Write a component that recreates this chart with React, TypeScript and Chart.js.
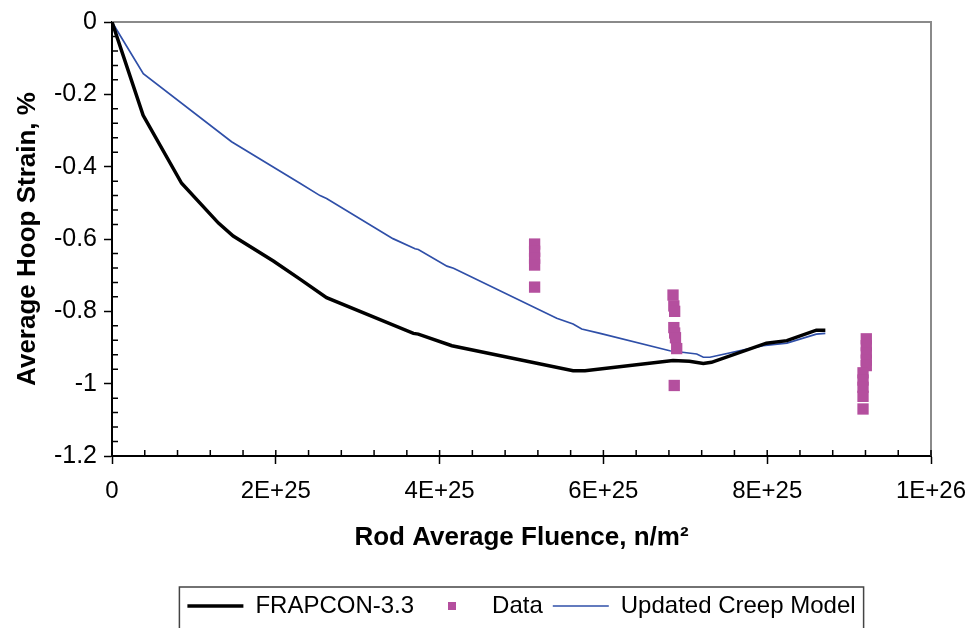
import React, { useEffect, useRef } from 'react';
import { Chart, registerables } from 'chart.js';

Chart.register(...registerables);

// ---- data (fluence in n/m², strain in %) ----
const frapconFluence = [0, 3.8e24, 8.5e24, 13.0e24, 14.8e24, 19.7e24, 22.95e24, 26.2e24, 36.8e24, 37.4e24, 41.5e24, 56.3e24, 57.75e24, 68.5e24, 70.5e24, 72.2e24, 73.2e24, 79.9e24, 82.4e24, 86.0e24, 87.1e24];
const frapconStrain = [0, -0.258, -0.446, -0.556, -0.592, -0.661, -0.711, -0.762, -0.861, -0.863, -0.895, -0.964, -0.964, -0.936, -0.938, -0.944, -0.941, -0.888, -0.881, -0.852, -0.852];

const creepFluence = [0, 3.82e24, 14.6e24, 22.95e24, 25.4e24, 26.2e24, 34.3e24, 37.0e24, 37.4e24, 40.9e24, 41.7e24, 54.3e24, 56.3e24, 57.35e24, 59.6e24, 68.1e24, 71.4e24, 72.2e24, 73.0e24, 79.5e24, 82.4e24, 86.0e24, 87.1e24];
const creepStrain = [0, -0.143, -0.331, -0.446, -0.48, -0.488, -0.599, -0.627, -0.629, -0.675, -0.681, -0.819, -0.835, -0.849, -0.861, -0.909, -0.918, -0.927, -0.927, -0.895, -0.888, -0.863, -0.861];

const dataFluence = [51.6e24, 51.6e24, 51.6e24, 51.6e24, 51.6e24, 68.5e24, 68.6e24, 68.7e24, 68.6e24, 68.7e24, 68.8e24, 68.95e24, 68.65e24, 92.1e24, 92.1e24, 92.1e24, 92.1e24, 92.1e24, 91.7e24, 91.7e24, 91.7e24, 91.7e24, 91.7e24];
const dataStrain = [-0.614, -0.634, -0.653, -0.672, -0.733, -0.755, -0.785, -0.80, -0.845, -0.86, -0.873, -0.903, -1.005, -0.876, -0.895, -0.915, -0.935, -0.95, -0.97, -0.99, -1.01, -1.035, -1.07];

const seriesNames = ['FRAPCON-3.3', 'Data', 'Updated Creep Model'];
const xAxisTitle = 'Rod Average Fluence, n/m²';
const yAxisTitle = 'Average Hoop Strain, %';

const xMin = 0;
const xMax = 1e26;
const xMajorStep = 2e25;
const xMinorStep = 4e24;
const yMin = -1.2;
const yMax = 0;
const yMajorStep = 0.2;
const yMinorStep = 0.04;

const BLACK = '#000000';
const BLUE = '#2F4FA8';
const MAGENTA = '#B44F9E';
const FONT = "'Liberation Sans', Arial, sans-serif";

const framePlugin = {
  id: 'frameAndMinorTicks',
  beforeDatasetsDraw(chart: any) {
    const { ctx, chartArea: a, scales } = chart;
    ctx.save();
    ctx.strokeStyle = '#8a8a8a';
    ctx.lineWidth = 2;
    ctx.beginPath();
    ctx.moveTo(a.left, a.top);
    ctx.lineTo(a.right, a.top);
    ctx.lineTo(a.right, a.bottom);
    ctx.stroke();

    ctx.strokeStyle = '#000';
    ctx.lineWidth = 1.5;
    ctx.beginPath();
    const ys = scales.y;
    const nY = Math.round((yMax - yMin) / yMinorStep);
    const perMajorY = Math.round(yMajorStep / yMinorStep);
    for (let i = 1; i < nY; i++) {
      if (i % perMajorY === 0) continue;
      const py = ys.getPixelForValue(yMax - i * yMinorStep);
      ctx.moveTo(a.left, py);
      ctx.lineTo(a.left + 6, py);
    }
    const xs = scales.x;
    const nX = Math.round((xMax - xMin) / xMinorStep);
    for (let i = 1; i <= nX; i++) {
      const px = xs.getPixelForValue(xMin + i * xMinorStep);
      ctx.moveTo(px, a.bottom);
      ctx.lineTo(px, a.bottom - 6);
    }
    ctx.stroke();
    ctx.restore();
  },
  afterDraw(chart: any) {
    const lg = chart.legend;
    if (!lg || !lg.legendHitBoxes || !lg.legendHitBoxes.length) return;
    const boxes = lg.legendHitBoxes;
    const first = boxes[0];
    const last = boxes[boxes.length - 1];
    const { ctx } = chart;
    ctx.save();
    ctx.strokeStyle = '#444';
    ctx.lineWidth = 1.5;
    const left = first.left - 8;
    const right = last.left + last.width + 8;
    const top = lg.top + 3;
    ctx.strokeRect(left, top, right - left, lg.bottom + 40 - top);
    ctx.restore();
  },
};

export default function App() {
  const ref = useRef<HTMLCanvasElement | null>(null);

  useEffect(() => {
    if (!ref.current) return;
    const sq = document.createElement('canvas');
    sq.width = 8;
    sq.height = 8;
    const sctx = sq.getContext('2d');
    if (sctx) {
      sctx.fillStyle = MAGENTA;
      sctx.fillRect(0, 0, 8, 8);
    }

    const chart = new Chart(ref.current, {
      type: 'scatter',
      data: {
        datasets: [
          {
            label: seriesNames[0],
            data: frapconFluence.map((x, i) => ({ x, y: frapconStrain[i] })),
            showLine: true,
            borderColor: BLACK,
            backgroundColor: BLACK,
            borderWidth: 3.5,
            pointRadius: 0,
            tension: 0,
            order: 1,
          },
          {
            label: seriesNames[1],
            data: dataFluence.map((x, i) => ({ x, y: dataStrain[i] })),
            showLine: false,
            pointStyle: 'rect',
            pointRadius: 8,
            pointBorderWidth: 0,
            backgroundColor: MAGENTA,
            borderColor: MAGENTA,
            order: 0,
          },
          {
            label: seriesNames[2],
            data: creepFluence.map((x, i) => ({ x, y: creepStrain[i] })),
            showLine: true,
            borderColor: BLUE,
            backgroundColor: BLUE,
            borderWidth: 1.7,
            pointRadius: 0,
            tension: 0,
            order: 2,
          },
        ],
      } as any,
      options: {
        animation: false,
        responsive: false,
        devicePixelRatio: 1,
        layout: { padding: { top: 19.5, right: 40, left: 0, bottom: 0 } },
        plugins: {
          tooltip: { enabled: false },
          legend: {
            position: 'bottom',
            fullSize: false,
            labels: {
              usePointStyle: true,
              pointStyleWidth: 56,
              padding: 10,
              color: '#000',
              font: { family: FONT, size: 24 },
              generateLabels: () => [
                { text: seriesNames[0], pointStyle: 'line', strokeStyle: BLACK, fillStyle: BLACK, lineWidth: 3.5, datasetIndex: 0, hidden: false, fontColor: '#000' },
                { text: seriesNames[1], pointStyle: sq, strokeStyle: MAGENTA, fillStyle: MAGENTA, lineWidth: 0, datasetIndex: 1, hidden: false, fontColor: '#000' },
                { text: seriesNames[2], pointStyle: 'line', strokeStyle: BLUE, fillStyle: BLUE, lineWidth: 1.7, datasetIndex: 2, hidden: false, fontColor: '#000' },
              ] as any,
            },
          },
        },
        scales: {
          x: {
            type: 'linear',
            min: xMin,
            max: xMax,
            afterFit: (s: any) => { s.height = 128; s.paddingRight = 0; s.paddingLeft = 0; },
            border: { color: '#000', width: 2 },
            grid: { drawOnChartArea: false, drawTicks: true, tickLength: 8, tickColor: '#000', tickWidth: 1.5 },
            ticks: {
              stepSize: xMajorStep,
              padding: 13,
              color: '#000',
              font: { family: FONT, size: 24 },
              maxRotation: 0,
              callback: (v: any) => (Number(v) === 0 ? '0' : Number(v).toExponential(0).toUpperCase()),
            },
            title: {
              display: true,
              text: xAxisTitle,
              color: '#000',
              font: { family: FONT, size: 26, weight: 'bold' },
              padding: { top: 0, bottom: 31 },
            },
          },
          y: {
            type: 'linear',
            min: yMin,
            max: yMax,
            afterFit: (s: any) => { s.width = 112; },
            border: { color: '#000', width: 2 },
            grid: { drawOnChartArea: false, drawTicks: true, tickLength: 8, tickColor: '#000', tickWidth: 1.5 },
            ticks: {
              stepSize: yMajorStep,
              padding: 7,
              color: '#000',
              font: { family: FONT, size: 25 },
              callback: (v: any) => String(Number(Number(v).toFixed(1))),
            },
            title: {
              display: true,
              text: yAxisTitle,
              color: '#000',
              font: { family: FONT, size: 26, weight: 'bold' },
              padding: { top: 12, bottom: 0 },
            },
          },
        },
      } as any,
      plugins: [framePlugin as any],
    });
    return () => chart.destroy();
  }, []);

  return (
    <div style={{ position: 'fixed', left: 0, top: 0, width: 971, height: 628, background: '#fff' }}>
      <canvas ref={ref} width={971} height={628} style={{ display: 'block', width: 971, height: 628 }} />
    </div>
  );
}
